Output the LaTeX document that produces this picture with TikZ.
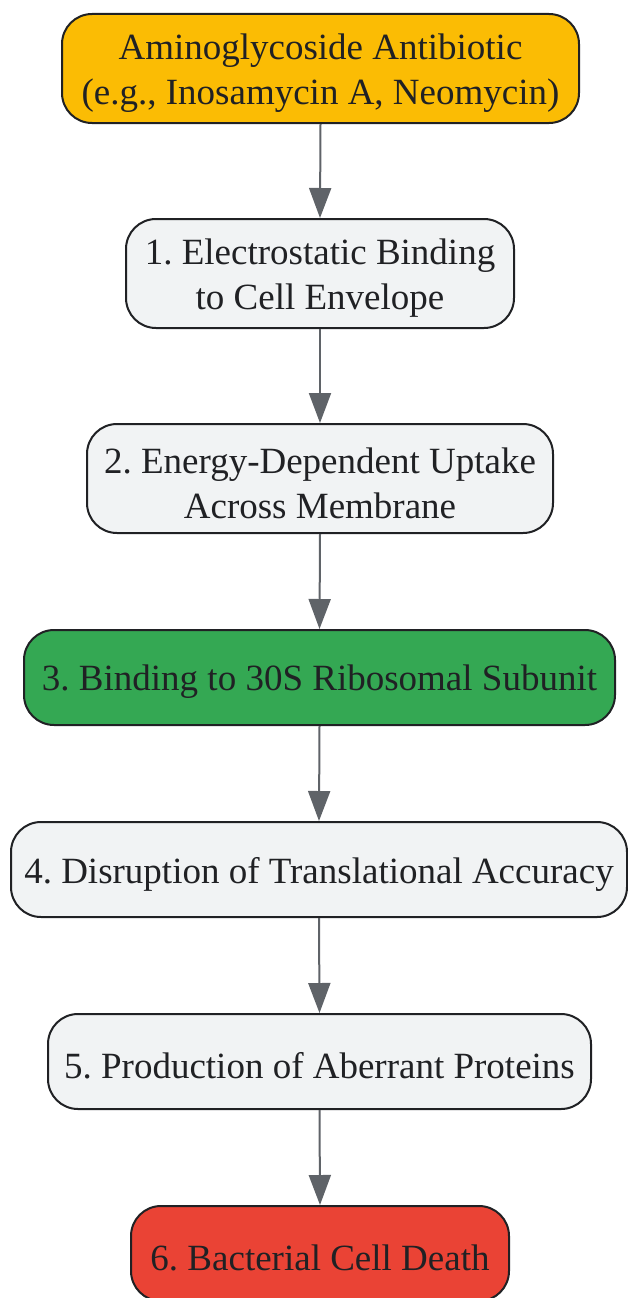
\documentclass[tikz,border=0pt]{standalone}
\usepackage{fontspec}
\setmainfont{Liberation Serif}
\frenchspacing
\usetikzlibrary{arrows.meta}
\definecolor{txt}{HTML}{202124}
\definecolor{edge}{HTML}{5F6368}
\definecolor{yel}{HTML}{FBBC04}
\definecolor{lgray}{HTML}{F1F3F4}
\definecolor{grn}{HTML}{34A853}
\definecolor{rd}{HTML}{EA4335}
\tikzset{
  box/.style={draw=txt, line width=2pt, rounded corners=30pt, inner sep=0pt},
  lbl/.style={align=center, text=txt, inner sep=0pt, yshift=-4.5pt,
    font=\fontsize{37}{45}\selectfont\frenchspacing},
  conn/.style={draw=edge, line width=2pt, -{Triangle[width=22pt,length=30pt]}}
}
\begin{document}
\begin{tikzpicture}[x=1pt,y=-1pt]
\useasboundingbox (0,0) rectangle (628,1298);
\node[box, fill=yel, minimum width=517pt, minimum height=109pt] (n0) at (320.5,68.5) {};
\node[lbl] (t0) at (n0.center) {Aminoglycoside Antibiotic\\(e.g., Inosamycin A, Neomycin)};
\node[box, fill=lgray, minimum width=388pt, minimum height=109pt] (n1) at (320,273.5) {};
\node[lbl] (t1) at (n1.center) {1. Electrostatic Binding\\to Cell Envelope};
\node[box, fill=lgray, minimum width=466pt, minimum height=109pt] (n2) at (320,478.5) {};
\node[lbl] (t2) at (n2.center) {2. Energy-Dependent Uptake\\Across Membrane};
\node[box, fill=grn, minimum width=591pt, minimum height=95pt] (n3) at (319.5,677.5) {};
\node[lbl] (t3) at (n3.center) {3. Binding to 30S Ribosomal Subunit};
\node[box, fill=lgray, minimum width=616pt, minimum height=95pt] (n4) at (319,869.5) {};
\node[lbl] (t4) at (n4.center) {4. Disruption of Translational Accuracy};
\node[box, fill=lgray, minimum width=543pt, minimum height=95pt] (n5) at (319.5,1061.5) {};
\node[lbl] (t5) at (n5.center) {5. Production of Aberrant Proteins};
\node[box, fill=rd, minimum width=378pt, minimum height=95pt] (n6) at (320,1253.5) {};
\node[lbl] (t6) at (n6.center) {6. Bacterial Cell Death};
\draw[conn] (n0.south) -- (n1.north);
\draw[conn] (n1.south) -- (n2.north);
\draw[conn] (n2.south) -- (n3.north);
\draw[conn] (n3.south) -- (n4.north);
\draw[conn] (n4.south) -- (n5.north);
\draw[conn] (n5.south) -- (n6.north);
\end{tikzpicture}
\end{document}
